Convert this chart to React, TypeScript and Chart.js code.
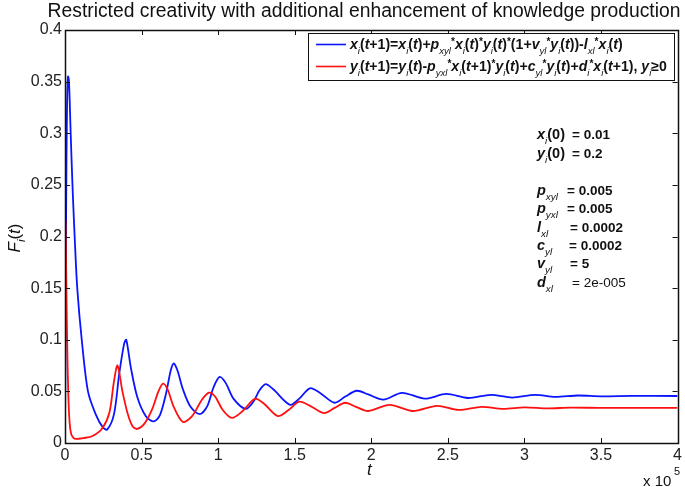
import React, { useEffect, useRef } from "react";
import { Chart, registerables } from "chart.js";

Chart.register(...registerables);

// ---------- data (t in units of 1e5) ----------
const X_TICKS = [0, 0.5, 1, 1.5, 2, 2.5, 3, 3.5, 4];
const Y_TICKS = [0, 0.05, 0.1, 0.15, 0.2, 0.25, 0.3, 0.35, 0.4];

const blueT = [
  0, 0.004, 0.008, 0.012, 0.016, 0.02, 0.025, 0.03, 0.037, 0.05, 0.063, 0.08, 0.11, 0.15,
  0.2, 0.245, 0.275, 0.32, 0.354, 0.386, 0.4, 0.43, 0.473, 0.528, 0.58, 0.62, 0.66, 0.69,
  0.71, 0.735, 0.77, 0.82, 0.88, 0.93, 0.97, 1.01, 1.05, 1.1, 1.18, 1.23, 1.27, 1.31, 1.36,
  1.47, 1.53, 1.6, 1.67, 1.76, 1.83, 1.905, 1.98, 2.08, 2.2, 2.35, 2.49, 2.63, 2.78, 2.92,
  3.07, 3.2, 3.35, 3.5, 3.7, 4.0,
];
const blueV = [
  0.01, 0.12, 0.24, 0.31, 0.345, 0.355, 0.352, 0.335, 0.3, 0.245, 0.2, 0.15, 0.099, 0.05,
  0.028, 0.0156, 0.013, 0.028, 0.067, 0.096, 0.1, 0.073, 0.044, 0.026, 0.021, 0.027, 0.048,
  0.07, 0.077, 0.07, 0.052, 0.035, 0.028, 0.036, 0.054, 0.064, 0.058, 0.043, 0.033, 0.04,
  0.051, 0.057, 0.052, 0.037, 0.043, 0.053, 0.048, 0.039, 0.045, 0.0506, 0.047, 0.042,
  0.0486, 0.043, 0.0475, 0.0436, 0.0467, 0.044, 0.0466, 0.0447, 0.046, 0.0452, 0.0456, 0.0455,
];

const redT = [
  0, 0.003, 0.006, 0.01, 0.015, 0.022, 0.03, 0.04, 0.055, 0.07, 0.12, 0.18, 0.245, 0.29,
  0.32, 0.343, 0.375, 0.41, 0.44, 0.47, 0.52, 0.57, 0.61, 0.64, 0.67, 0.71, 0.77, 0.83,
  0.89, 0.94, 0.98, 1.03, 1.09, 1.16, 1.24, 1.3, 1.39, 1.46, 1.53, 1.6, 1.69, 1.76, 1.83,
  1.9, 1.98, 2.12, 2.27, 2.43, 2.57, 2.72, 2.86, 3.0, 3.15, 3.3, 3.5, 4.0,
];
const redV = [
  0.2, 0.215, 0.19, 0.14, 0.09, 0.045, 0.02, 0.009, 0.005, 0.004, 0.0048, 0.0068, 0.0146,
  0.0295, 0.06, 0.075, 0.05, 0.028, 0.0165, 0.0136, 0.019, 0.033, 0.05, 0.0575, 0.052,
  0.035, 0.0204, 0.026, 0.041, 0.0487, 0.045, 0.032, 0.0243, 0.031, 0.0428, 0.038, 0.026,
  0.032, 0.04, 0.036, 0.029, 0.034, 0.039, 0.035, 0.031, 0.037, 0.031, 0.036, 0.032, 0.035,
  0.033, 0.0345, 0.0335, 0.0343, 0.034, 0.034,
];

const TITLE = "Restricted creativity with additional enhancement of knowledge production";
const LEGEND_BLUE = "x_i(t+1)=x_i(t)+p_{xyl}^*x_i(t)^*y_i(t)^*(1+v_{yl}^*y_i(t))-l_{xl}^*x_i(t)";
const LEGEND_RED = "y_i(t+1)=y_i(t)-p_{yxl}^*x_i(t+1)^*y_i(t)+c_{yl}^*y_i(t)+d_i^*x_i(t+1), y_i\u22650";
const PARAM_LABELS = ["x_i(0)", "y_i(0)", "p_{xyl}", "p_{yxl}", "l_{xl}", "c_{yl}", "v_{yl}", "d_{xl}"];
const PARAM_VALUES = ["= 0.01", "= 0.2", "= 0.005", "= 0.005", "= 0.0002", "= 0.0002", "= 5", "= 2e-005"];

const FONT = '"Liberation Sans", Arial, Helvetica, sans-serif';
const BLUE = "#0a14ff";
const RED = "#ff1010";

// ---------- rich text ----------
type Seg = { text: string; kind: "n" | "i" | "sub" | "sup" };
function parseRich(s: string): Seg[] {
  const out: Seg[] = [];
  let i = 0;
  while (i < s.length) {
    const c = s[i];
    if (c === "_" || c === "^") {
      let t = "";
      if (s[i + 1] === "{") {
        const j = s.indexOf("}", i + 2);
        t = s.slice(i + 2, j);
        i = j + 1;
      } else {
        t = s[i + 1];
        i += 2;
      }
      out.push({ text: t, kind: c === "_" ? "sub" : "sup" });
    } else {
      out.push({ text: c, kind: /[a-zA-Z]/.test(c) ? "i" : "n" });
      i++;
    }
  }
  return out;
}

function drawRich(
  ctx: CanvasRenderingContext2D,
  str: string,
  x: number,
  y: number,
  size: number,
  bold: boolean,
  draw = true
): number {
  const segs = parseRich(str);
  const b = bold ? "bold " : "";
  let cx = x;
  for (const s of segs) {
    let font = "";
    let dy = 0;
    if (s.kind === "i") font = `italic ${b}${size}px ${FONT}`;
    else if (s.kind === "n") font = `${b}${size}px ${FONT}`;
    else if (s.kind === "sub") {
      font = `italic ${size * 0.68}px ${FONT}`;
      dy = size * 0.32;
    } else {
      font = `${b}${size * 0.72}px ${FONT}`;
      dy = -size * 0.3;
    }
    ctx.font = font;
    if (draw) ctx.fillText(s.text, cx, y + dy);
    cx += ctx.measureText(s.text).width;
  }
  return cx - x;
}

const decorPlugin = {
  id: "decor",
  afterDatasetsDraw(chart: any) {
    const ctx: CanvasRenderingContext2D = chart.ctx;
    const { left, right, top, bottom } = chart.chartArea;
    const xs = chart.scales.x;
    const ys = chart.scales.y;
    ctx.save();
    ctx.fillStyle = "#111";
    ctx.strokeStyle = "#111";
    ctx.lineWidth = 1;
    ctx.textBaseline = "alphabetic";
    ctx.textAlign = "left";

    // inward ticks
    const TL = 5;
    ctx.beginPath();
    for (const t of xs.ticks) {
      const px = Math.round(xs.getPixelForValue(t.value)) + 0.5;
      ctx.moveTo(px, bottom);
      ctx.lineTo(px, bottom - TL);
      ctx.moveTo(px, top);
      ctx.lineTo(px, top + TL);
    }
    for (const t of ys.ticks) {
      const py = Math.round(ys.getPixelForValue(t.value)) + 0.5;
      ctx.moveTo(left, py);
      ctx.lineTo(left + TL, py);
      ctx.moveTo(right, py);
      ctx.lineTo(right - TL, py);
    }
    ctx.stroke();

    // frame
    ctx.lineWidth = 1.5;
    ctx.strokeRect(Math.round(left) + 0.5, Math.round(top) + 0.5, Math.round(right - left), Math.round(bottom - top));

    // title (fit to width)
    ctx.font = `17px ${FONT}`;
    const tw = ctx.measureText(TITLE).width;
    const tsize = (17 * 633) / tw;
    ctx.font = `${tsize}px ${FONT}`;
    ctx.textAlign = "center";
    ctx.fillStyle = "#111";
    ctx.fillText(TITLE, 364, 17);

    // x label
    ctx.font = `italic 17px ${FONT}`;
    ctx.fillText("t", (left + right) / 2 - 2, 475);

    // x 10^5
    ctx.textAlign = "left";
    ctx.font = `15px ${FONT}`;
    ctx.fillText("x 10", 643, 486);
    ctx.font = `11px ${FONT}`;
    ctx.fillText("5", 674, 475);

    // y label
    ctx.save();
    ctx.translate(20, 238);
    ctx.rotate(-Math.PI / 2);
    const yw = drawRich(ctx, "F_i(t)", 0, 0, 17, false, false);
    drawRich(ctx, "F_i(t)", -yw / 2, 0, 17, false, true);
    ctx.restore();

    // legend box
    const lx = 308, ly = 33, lw = 366, lh = 47;
    ctx.fillStyle = "#fff";
    ctx.fillRect(lx, ly, lw, lh);
    ctx.strokeStyle = "#111";
    ctx.lineWidth = 1;
    ctx.strokeRect(lx + 0.5, ly + 0.5, lw, lh);
    ctx.lineWidth = 1.6;
    ctx.strokeStyle = BLUE;
    ctx.beginPath();
    ctx.moveTo(316, 44.5);
    ctx.lineTo(346, 44.5);
    ctx.stroke();
    ctx.strokeStyle = RED;
    ctx.beginPath();
    ctx.moveTo(316, 66.5);
    ctx.lineTo(346, 66.5);
    ctx.stroke();
    ctx.fillStyle = "#111";
    const w2 = drawRich(ctx, LEGEND_RED, 0, 0, 13, true, false);
    const lsize = (13 * 317) / w2;
    drawRich(ctx, LEGEND_BLUE, 350, 49, lsize, true);
    drawRich(ctx, LEGEND_RED, 350, 71, lsize, true);

    // parameter annotations
    const rowsY = [134, 153, 190, 208, 227, 245, 263, 282];
    const eqX = [572, 572, 567, 567, 570, 569, 570, 572];
    for (let i = 0; i < PARAM_LABELS.length; i++) {
      const by = rowsY[i] + 5;
      drawRich(ctx, PARAM_LABELS[i], 537, by, 14.5, true);
      const isRegular = PARAM_VALUES[i].includes("e-");
      ctx.font = `${isRegular ? "" : "bold "}13.5px ${FONT}`;
      ctx.fillText(PARAM_VALUES[i], eqX[i], by);
    }
    ctx.restore();
  },
};

export default function App() {
  const ref = useRef<HTMLCanvasElement | null>(null);
  useEffect(() => {
    if (!ref.current) return;
    const blueData = blueT.map((t, i) => ({ x: t, y: blueV[i] }));
    const redData = redT.map((t, i) => ({ x: t, y: redV[i] }));
    const tickFont = { family: FONT, size: 16 };
    const chart = new Chart(ref.current, {
      type: "line",
      data: {
        datasets: [
          {
            label: "x",
            data: blueData,
            borderColor: BLUE,
            borderWidth: 1.8,
            pointRadius: 0,
            tension: 0.3,
            fill: false,
            order: 1,
          },
          {
            label: "y",
            data: redData,
            borderColor: RED,
            borderWidth: 1.8,
            pointRadius: 0,
            tension: 0.3,
            fill: false,
            order: 0,
          },
        ],
      },
      options: {
        animation: false,
        responsive: true,
        maintainAspectRatio: false,
        devicePixelRatio: 1,
        layout: { padding: { top: 30, right: 7, left: 0, bottom: 0 } },
        plugins: { legend: { display: false }, title: { display: false }, tooltip: { enabled: false } },
        scales: {
          x: {
            type: "linear",
            min: 0,
            max: 4,
            afterBuildTicks: (s: any) => {
              s.ticks = X_TICKS.map((v) => ({ value: v }));
            },
            afterFit: (s: any) => {
              s.height = 44;
            },
            grid: { display: false, drawTicks: false },
            border: { display: false },
            ticks: {
              font: tickFont,
              color: "#222",
              padding: 3,
              maxRotation: 0,
              autoSkip: false,
              callback: (v: any) => String(Number(Number(v).toFixed(2))),
            },
          },
          y: {
            type: "linear",
            min: 0,
            max: 0.4,
            afterBuildTicks: (s: any) => {
              s.ticks = Y_TICKS.map((v) => ({ value: v }));
            },
            afterFit: (s: any) => {
              s.width = 65;
            },
            grid: { display: false, drawTicks: false },
            border: { display: false },
            ticks: {
              font: tickFont,
              color: "#222",
              padding: 3,
              autoSkip: false,
              callback: (v: any) => String(Number(Number(v).toFixed(2))),
            },
          },
        },
      } as any,
      plugins: [decorPlugin],
    });
    return () => chart.destroy();
  }, []);

  return (
    <div style={{ position: "fixed", left: 0, top: 0, width: 685, height: 487, background: "#fff" }}>
      <canvas ref={ref} />
    </div>
  );
}
